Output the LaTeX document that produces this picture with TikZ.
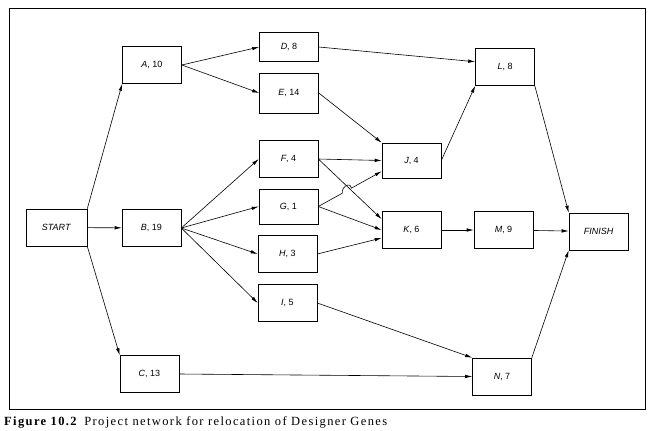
\documentclass[tikz,border=0pt]{standalone}
\usepackage{fontspec}
\setmainfont{Liberation Serif}
\newfontfamily\labelfont{Liberation Sans}
\newfontfamily\capfont[LetterSpace=11]{Liberation Serif}
\usetikzlibrary{arrows.meta,calc}
\tikzset{
  box/.style={draw, line width=0.6pt, minimum width=59pt, minimum height=37pt, inner sep=0pt, font=\labelfont\small},
  arr/.style={line width=0.6pt, -{Latex[length=7pt,width=3.5pt]}}
}
\begin{document}
\begin{tikzpicture}[x=1pt,y=-1pt]
				\useasboundingbox (0,0) rectangle (656,431);
				\draw[line width=0.9pt] (9,8) rectangle (645,409);
				\node[box, minimum width=61pt] (start) at (56.5,227.5) {\textit{START}};
				\node[box] (A) at (152,65) {\textit{A}, 10};
				\node[box] (B) at (151.5,228) {\textit{B}, 19};
				\node[box] (C) at (149.5,374) {\textit{C}, 13};
				\node[box, minimum height=29pt] (D) at (289,47) {\textit{D}, 8};
				\node[box, minimum height=40pt] (E) at (289,93) {\textit{E}, 14};
				\node[box] (F) at (288.5,159) {\textit{F}, 4};
				\node[box, minimum height=35pt] (G) at (288.5,206.5) {\textit{G}, 1};
				\node[box] (H) at (287.5,254) {\textit{H}, 3};
				\node[box] (I) at (287.5,303) {\textit{I}, 5};
				\node[box, minimum height=35pt] (J) at (411.5,160.5) {\textit{J}, 4};
				\node[box] (K) at (411.5,230) {\textit{K}, 6};
				\node[box] (L) at (505,67) {\textit{L}, 8};
				\node[box] (M) at (503.5,230) {\textit{M}, 9};
				\node[box] (N) at (502,376.5) {\textit{N}, 7};
				\node[box] (finish) at (598.5,231.5) {\textit{FINISH}};
				\draw[arr] (start.north east)--(A.south west);
				\draw[arr] (start)--(B);
				\draw[arr] (start.south east)--(C.north west);
				\draw[arr] (A.east)--(D.west);
				\draw[arr] (A.east)--(E.west);
				\draw[arr] (B.east)--(F.west);
				\draw[arr] (B.east)--(G.west);
				\draw[arr] (B.east)--(H.west);
				\draw[arr] (B.east)--(I.west);
				\draw[arr] (D.east)--(L.170);
				\draw[arr] (E.east)--(J.north west);
				\draw[arr] (F.east)--(J.west);
				\draw[arr] (F.east)--(K.160);
				% G to J hops over F to K
				\path (G.east)--(J.200) coordinate[pos=0.38] (hopa) coordinate[pos=0.52] (hopb);
				\draw[arr] (G.east)--(hopa) .. controls ($(hopa)+(-1,-7)$) and ($(hopb)+(-1,-7)$) .. (hopb)--(J.200);
				\draw[arr] (G.east)--(K.west);
				\draw[arr] (H.east)--(K.195);
				\draw[arr] (I.east)--(N.north west);
				\draw[arr] (C.east)--(N.west);
				\draw[arr] (J.east)--(L.south west);
				\draw[arr] (K)--(M);
				\draw[arr] (L.south east)--(finish.north west);
				\draw[arr] (M)--(finish);
				\draw[arr] (N.north east)--(finish.south west);
				\node[anchor=base west, font=\capfont\fontsize{12.5}{14}\selectfont, inner sep=0pt] (cap) at (4,425) {\textbf{Figure 10.2}\enspace Project network for relocation of Designer Genes};
			\end{tikzpicture}
\end{document}
